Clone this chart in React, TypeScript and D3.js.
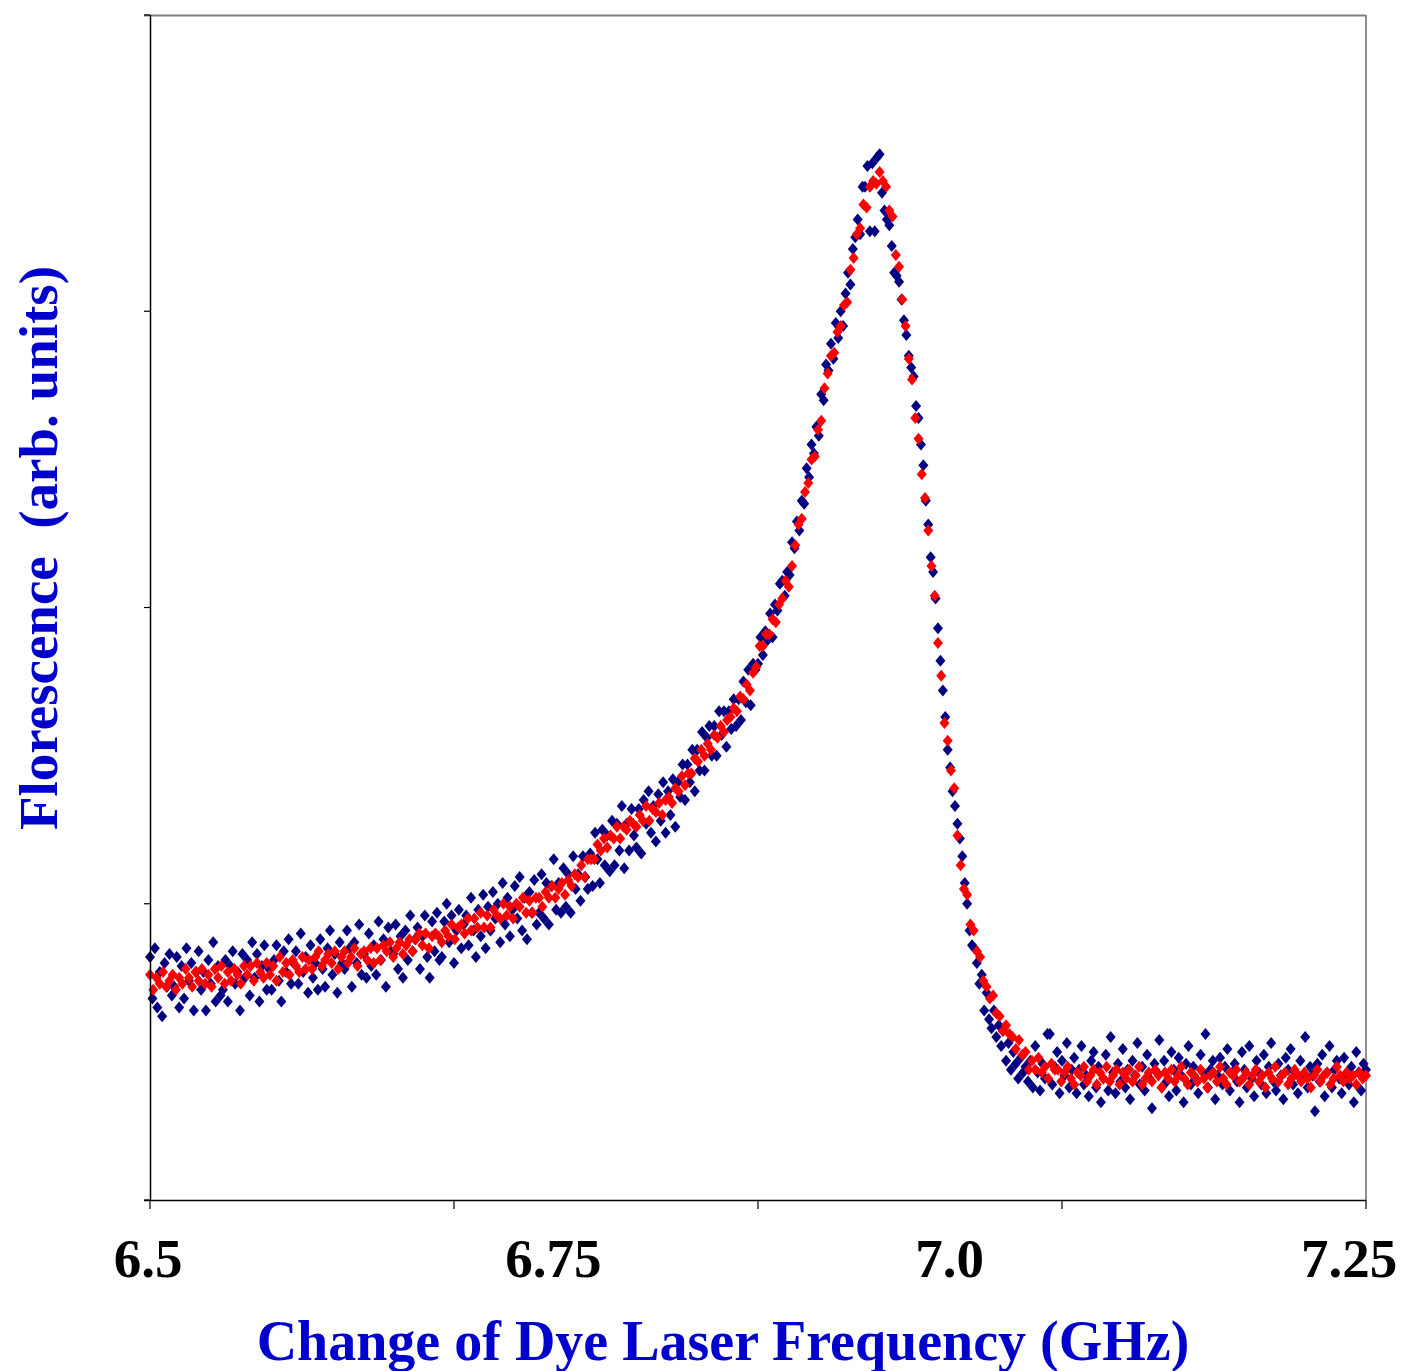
import React from "react";
import * as d3 from "d3";

// ---------- data ----------
const X_DOMAIN: [number, number] = [6.5, 7.25];
const Y_DOMAIN: [number, number] = [0, 400];
const X_TICK_COUNT = 4; // 4 intervals on the x axis
const Y_TICKS = [0, 100, 200, 300, 400];
const X_LABEL_VALUES = [6.5, 6.75, 7.0, 7.25];
const X_LABELS = ["6.5", "6.75", "7.0", "7.25"];

// red (smoothed) series, sampled every 0.002 GHz from 6.5 GHz
const RED_START = 6.5;
const RED_STEP = 0.002;
const redValues = [
  76, 71, 75, 73, 77, 72, 74, 76, 71, 75,
  73, 78, 75, 72, 77, 74, 78, 73, 76, 72,
  78, 75, 79, 73, 77, 74, 78, 76, 73, 79,
  76, 79, 74, 80, 77, 75, 80, 76, 79, 74,
  82, 77, 80, 76, 81, 79, 77, 82, 78, 81,
  78, 82, 84, 79, 81, 83, 80, 84, 78, 82,
  84, 80, 82, 85, 79, 83, 84, 81, 85, 80,
  85, 81, 86, 84, 87, 82, 85, 87, 83, 86,
  88, 84, 88, 90, 86, 90, 85, 89, 90, 89,
  87, 91, 89, 93, 88, 92, 93, 90, 95, 91,
  95, 92, 97, 92, 96, 92, 98, 96, 95, 100,
  96, 99, 95, 100, 99, 102, 97, 101, 97, 102,
  102, 99, 104, 102, 106, 102, 105, 107, 103, 108,
  106, 110, 109, 113, 109, 115, 115, 115, 120, 118,
  122, 119, 123, 122, 126, 122, 126, 125, 128, 127,
  126, 130, 128, 133, 128, 132, 131, 134, 130, 135,
  136, 134, 139, 138, 143, 140, 144, 144, 149, 148,
  152, 150, 154, 152, 157, 156, 160, 158, 162, 163,
  166, 165, 170, 169, 174, 172, 178, 180, 187, 187,
  191, 191, 196, 195, 201, 203, 209, 207, 214, 221,
  228, 230, 239, 242, 250, 251, 260, 263, 274, 279,
  285, 286, 293, 295, 302, 303, 314, 318, 326, 328,
  336, 335, 342, 344, 343, 347, 344, 342, 334, 332,
  319, 315, 304, 295, 284, 277, 264, 257, 245, 237,
  226, 214, 204, 188, 177, 161, 155, 145, 139, 123,
  113, 105, 103, 93, 91, 84, 82, 74, 72, 68,
  69, 63, 62, 57, 59, 56, 55, 51, 54, 49,
  50, 44, 47, 44, 48, 43, 45, 41, 46, 44,
  44, 40, 43, 45, 41, 39, 43, 42, 45, 40,
  42, 44, 39, 43, 41, 45, 40, 42, 44, 39,
  43, 41, 44, 40, 42, 45, 39, 41, 43, 40,
  44, 42, 38, 43, 41, 44, 40, 42, 45, 41,
  39, 43, 42, 40, 44, 41, 38, 42, 43, 40,
  45, 41, 39, 43, 42, 44, 40, 41, 43, 39,
  42, 44, 40, 42, 38, 43, 41, 45, 40, 42,
  43, 39, 41, 44, 42, 40, 43, 41, 38, 42,
  44, 40, 42, 43, 39, 41, 45, 42, 40, 43,
  41, 42, 39, 43, 41, 42,
];

// navy (raw) series, sampled every 0.0015 GHz from 6.5 GHz
const BLUE_START = 6.5;
const BLUE_STEP = 0.0015;
const blueValues = [
  82, 68, 85, 65, 77, 62, 80, 72, 83, 69,
  72, 82, 65, 79, 68, 85, 74, 80, 64, 77,
  84, 71, 77, 64, 81, 73, 87, 67, 79, 69,
  71, 81, 67, 79, 84, 73, 77, 64, 83, 75,
  81, 69, 87, 75, 83, 67, 79, 86, 71, 78,
  71, 81, 86, 74, 67, 84, 77, 88, 73, 80,
  84, 73, 90, 77, 82, 70, 86, 75, 80, 71,
  88, 78, 72, 85, 91, 76, 83, 70, 87, 80,
  78, 91, 85, 72, 87, 80, 93, 76, 83, 75,
  90, 79, 86, 76, 94, 81, 88, 72, 92, 84,
  83, 93, 78, 89, 75, 91, 81, 96, 84, 88,
  92, 78, 89, 96, 82, 75, 94, 84, 97, 81,
  82, 94, 100, 87, 96, 80, 91, 98, 85, 93,
  96, 86, 102, 91, 82, 98, 89, 103, 85, 99,
  91, 104, 95, 100, 87, 107, 93, 102, 89, 98,
  106, 95, 109, 91, 102, 88, 104, 97, 108, 93,
  97, 110, 95, 107, 93, 106, 115, 98, 107, 97,
  112, 99, 110, 97, 116, 105, 110, 101, 116, 109,
  105, 117, 106, 124, 115, 107, 125, 113, 123, 111,
  128, 113, 127, 118, 133, 112, 127, 118, 132, 123,
  119, 132, 117, 135, 127, 138, 124, 133, 121, 137,
  128, 141, 124, 138, 130, 142, 126, 141, 136, 147,
  135, 147, 141, 152, 138, 152, 145, 158, 145, 156,
  160, 150, 160, 150, 165, 157, 165, 153, 165, 159,
  169, 160, 169, 162, 175, 168, 179, 167, 181, 179,
  181, 190, 184, 192, 189, 198, 190, 201, 199, 208,
  209, 204, 212, 211, 222, 220, 229, 226, 236, 235,
  247, 244, 255, 252, 261, 258, 272, 270, 282, 280,
  289, 284, 296, 291, 300, 295, 306, 313, 309, 321,
  325, 331, 326, 342, 342, 349, 327, 350, 327, 352,
  353, 340, 334, 331, 329, 322, 313, 312, 310, 304,
  297, 292, 285, 281, 278, 268, 264, 255, 248, 236,
  228, 217, 212, 203, 193, 182, 172, 163, 152, 146,
  138, 133, 127, 122, 116, 107, 100, 91, 86, 85,
  80, 73, 76, 64, 70, 61, 58, 64, 55, 59,
  52, 58, 47, 53, 44, 50, 46, 41, 48, 43,
  45, 40, 47, 38, 52, 43, 37, 46, 41, 56,
  56, 39, 45, 50, 36, 47, 42, 53, 38, 44,
  48, 36, 44, 52, 39, 42, 35, 47, 50, 38,
  45, 33, 41, 49, 37, 55, 43, 36, 46, 40,
  51, 38, 44, 34, 47, 42, 53, 39, 45, 37,
  49, 41, 31, 46, 43, 54, 38, 47, 40, 35,
  50, 44, 37, 48, 42, 33, 46, 52, 39, 45,
  41, 36, 49, 43, 56, 38, 44, 47, 34, 42,
  48, 39, 45, 51, 37, 43, 46, 40, 33, 50,
  44, 38, 52, 41, 35, 47, 43, 39, 49, 36,
  45, 53, 40, 37, 46, 42, 34, 48, 44, 51,
  39, 43, 36, 47, 41, 55, 38, 45, 42, 30,
  46, 40, 49, 35, 43, 52, 38, 44, 47, 41,
  36, 48, 42, 39, 45, 33, 50, 43, 37, 46,
  44,
];

const X_TITLE = "Change of Dye Laser Frequency (GHz)";
const Y_TITLE = "Florescence  (arb. units)";

// ---------- layout / style ----------
const W = 1402;
const H = 1371;
const PLOT = { left: 150, right: 1366, top: 15, bottom: 1200 };
const FONT = "'Liberation Serif', 'Times New Roman', Times, serif";
const TITLE_COLOR = "#0000CC";
const NAVY = "#000080";
const RED = "#FF0000";
const LABEL_DX = [-2, -2, -11, -17];
const DIAMOND = "M0,-6L5,0L0,6L-5,0Z";

export default function App() {
  const x = d3.scaleLinear().domain(X_DOMAIN).range([PLOT.left, PLOT.right]);
  const y = d3.scaleLinear().domain(Y_DOMAIN).range([PLOT.bottom, PLOT.top]);

  const xTicks = d3
    .range(X_TICK_COUNT + 1)
    .map((i) => X_DOMAIN[0] + ((X_DOMAIN[1] - X_DOMAIN[0]) * i) / X_TICK_COUNT);

  const red = redValues.map((v, i) => ({ f: RED_START + i * RED_STEP, v }));
  const blue = blueValues.map((v, i) => ({ f: BLUE_START + i * BLUE_STEP, v }));

  return (
    <div style={{ position: "absolute", left: 0, top: 0 }}>
      <svg width={W} height={H} style={{ display: "block", background: "#fff" }}>
        <rect x={0} y={0} width={W} height={H} fill="#fff" />
        {/* top & right frame */}
        <line x1={PLOT.left - 6} x2={PLOT.right} y1={PLOT.top + 0.5} y2={PLOT.top + 0.5} stroke="#808080" strokeWidth={2} />
        <line x1={PLOT.right} x2={PLOT.right} y1={PLOT.top} y2={PLOT.bottom} stroke="#909090" strokeWidth={2} />

        {/* data */}
        <g fill={NAVY}>
          {blue.map((d, i) => (
            <path key={"b" + i} d={DIAMOND} transform={`translate(${x(d.f)},${y(d.v)})`} />
          ))}
        </g>
        <g fill={RED}>
          {red.map((d, i) => (
            <path key={"r" + i} d={DIAMOND} transform={`translate(${x(d.f)},${y(d.v)})`} />
          ))}
        </g>

        {/* left axis */}
        <line x1={PLOT.left + 0.5} x2={PLOT.left + 0.5} y1={PLOT.top} y2={PLOT.bottom} stroke="#000" strokeWidth={1.5} />
        {Y_TICKS.map((t) => (
          <line key={"yt" + t} x1={PLOT.left - 6} x2={PLOT.left} y1={y(t)} y2={y(t)} stroke="#000" strokeWidth={1.2} />
        ))}
        {/* bottom axis */}
        <line x1={PLOT.left - 6} x2={PLOT.right} y1={PLOT.bottom + 0.5} y2={PLOT.bottom + 0.5} stroke="#000" strokeWidth={1.5} />
        {xTicks.map((t, i) => (
          <line key={"xt" + i} x1={x(t)} x2={x(t)} y1={PLOT.bottom} y2={PLOT.bottom + 9} stroke="#000" strokeWidth={1.2} />
        ))}

        {/* x tick labels */}
        {X_LABEL_VALUES.map((v, i) => (
          <text
            key={"xl" + i}
            x={x(v) + LABEL_DX[i]}
            y={1277}
            textAnchor="middle"
            fontFamily={FONT}
            fontWeight="bold"
            fontSize={55}
            fill="#000"
          >
            {X_LABELS[i]}
          </text>
        ))}

        {/* axis titles */}
        <text
          x={723}
          y={1360}
          textAnchor="middle"
          fontFamily={FONT}
          fontWeight="bold"
          fontSize={56}
          fill={TITLE_COLOR}
        >
          {X_TITLE}
        </text>
        <text
          transform={`translate(57,548) rotate(-90)`}
          textAnchor="middle"
          fontFamily={FONT}
          fontWeight="bold"
          fontSize={55}
          fill={TITLE_COLOR}
          style={{ whiteSpace: "pre" }}
        >
          {Y_TITLE}
        </text>
      </svg>
    </div>
  );
}
